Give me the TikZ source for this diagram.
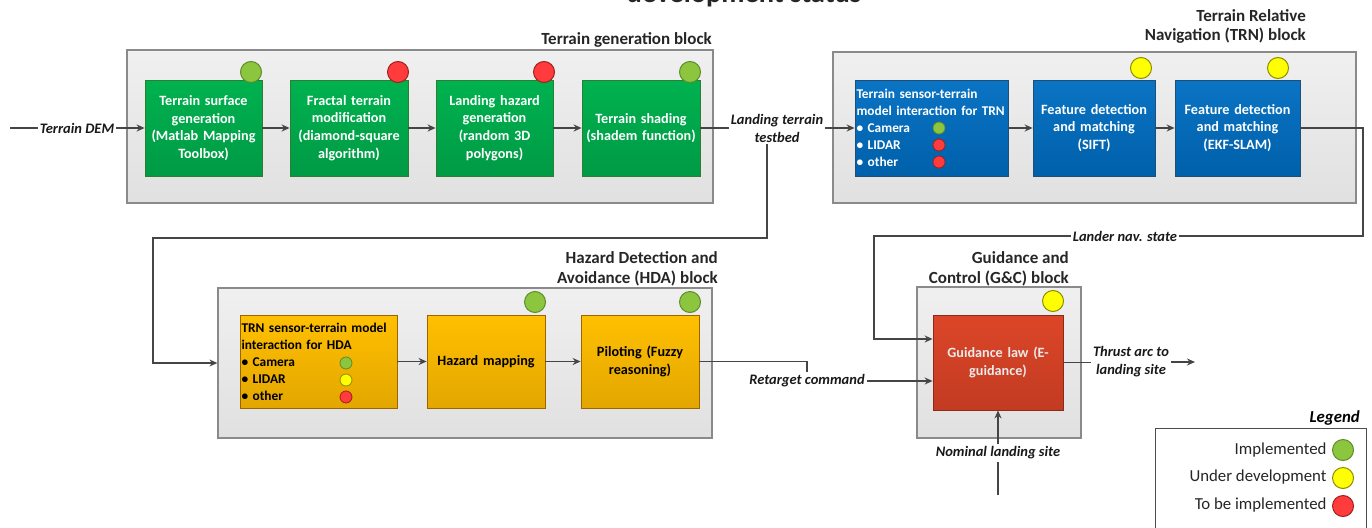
\documentclass[tikz,border=0pt]{standalone}
\usepackage{fontspec}
\setmainfont{Carlito}
\usetikzlibrary{arrows.meta}
\definecolor{lineC}{HTML}{454545}
\definecolor{blkbord}{HTML}{8A8A8A}
\definecolor{gTop}{HTML}{00B24F}
\definecolor{gBot}{HTML}{009A45}
\definecolor{gBord}{HTML}{2E7D32}
\definecolor{bTop}{HTML}{0A74C4}
\definecolor{bBot}{HTML}{0060AA}
\definecolor{bBord}{HTML}{1F4E79}
\definecolor{oTop}{HTML}{FFC000}
\definecolor{oBot}{HTML}{E3A600}
\definecolor{oBord}{HTML}{9C6500}
\definecolor{rTop}{HTML}{DC4628}
\definecolor{rBot}{HTML}{C23B22}
\definecolor{rBord}{HTML}{8B2A18}
\definecolor{stG}{HTML}{8CC63F}
\definecolor{stGd}{HTML}{5E8C2A}
\definecolor{stY}{HTML}{FFFF00}
\definecolor{stYd}{HTML}{8C8C00}
\definecolor{stR}{HTML}{FF3B3B}
\definecolor{stRd}{HTML}{A02020}
\tikzset{
  blk/.style={draw=blkbord, line width=1.2pt, top color=white!94!black, bottom color=white!88!black, rectangle, inner sep=0pt},
  blklbl/.style={font=\fontsize{17}{19.5}\selectfont\bfseries, align=right, inner sep=2pt, text=black!85},
  boxtxt/.style={font=\fontsize{14.2}{17.7}\selectfont\bfseries, text=white, align=center, inner sep=1pt},
  smalltxt/.style={font=\fontsize{13.4}{17}\selectfont\bfseries, align=left},
  gbox/.style={boxtxt, draw=gBord, line width=0.8pt, top color=gTop, bottom color=gBot, minimum height=96pt},
  bbox/.style={boxtxt, draw=bBord, line width=0.8pt, top color=bTop, bottom color=bBot, minimum height=96pt},
  obox/.style={boxtxt, text=black, draw=oBord, line width=0.8pt, top color=oTop, bottom color=oBot, minimum height=93pt},
  rbox/.style={boxtxt, text=white!92!black, draw=rBord, line width=0.8pt, top color=rTop, bottom color=rBot, minimum height=95pt},
  stat/.style={circle, minimum size=21pt, inner sep=0pt, line width=1pt},
  sstat/.style={circle, minimum size=12pt, inner sep=0pt, line width=0.8pt},
  sg/.style={fill=stG, draw=stGd}, sy/.style={fill=stY, draw=stYd}, sr/.style={fill=stR, draw=stRd},
  conn/.style={draw=lineC, line width=1.8pt},
  arr/.style={conn, -{Stealth[length=8pt,width=7pt]}},
  clbl/.style={font=\fontsize{14.5}{18}\selectfont\bfseries\itshape, align=center, inner sep=2pt, text=black!90},
}
\begin{document}
\begin{tikzpicture}[x=1pt,y=-1pt]
\useasboundingbox (0,0) rectangle (1372,527);
% title (cut off at top, as in the reference)
\node[anchor=base, font=\fontsize{28.5}{32}\selectfont\bfseries, text=black!85] (title) at (744,3) {development status};

% blocks
\node[blk, minimum width=586pt, minimum height=153pt] (tgb) at (420,126.5) {};
\node[blklbl, anchor=south east] (tgbl) at (714,50) {Terrain generation block};
\node[blk, minimum width=523pt, minimum height=151pt] (trn) at (1094.5,127.5) {};
\node[blklbl, anchor=south east] (trnl) at (1308,46) {Terrain Relative\\Navigation (TRN) block};
\node[blk, minimum width=494pt, minimum height=150pt] (hda) at (465,363) {};
\node[blklbl, anchor=south east] (hdal) at (720,288) {Hazard Detection and\\Avoidance (HDA) block};
\node[blk, minimum width=164pt, minimum height=151pt] (gc) at (999,362.5) {};
\node[blklbl, anchor=south east] (gcl) at (1071,288) {Guidance and\\Control (G\&C) block};

% terrain generation boxes
\node[gbox, minimum width=117pt, text width=115pt] (g1) at (203.5,128) {Terrain surface\\generation\\(Matlab Mapping\\Toolbox)};
\node[gbox, minimum width=118pt, text width=116pt] (g2) at (349,128) {Fractal terrain\\modification\\(diamond-square\\algorithm)};
\node[gbox, minimum width=117pt, text width=115pt] (g3) at (494.5,128) {Landing hazard\\generation\\(random 3D\\polygons)};
\node[gbox, minimum width=118pt, text width=116pt] (g4) at (641,128) {Terrain shading\\(shadem function)};
\node[stat, sg] (s1) at (251,72) {};
\node[stat, sr] (s2) at (398,72) {};
\node[stat, sr] (s3) at (544,72) {};
\node[stat, sg] (s4) at (690,72) {};

% TRN boxes
\node[bbox, smalltxt, minimum width=153pt, text width=150pt] (b1) at (931.5,128) {Terrain sensor-terrain\\model interaction for TRN\\\textbullet{} Camera\\\textbullet{} LIDAR\\\textbullet{} other};
\node[bbox, minimum width=122pt, text width=120pt] (b2) at (1094,128) {Feature detection\\and matching\\(SIFT)};
\node[bbox, minimum width=125pt, text width=123pt] (b3) at (1237.5,128) {Feature detection\\and matching\\(EKF-SLAM)};
\node[stat, sy] (s5) at (1141,68) {};
\node[stat, sy] (s6) at (1278,68) {};
\node[sstat, sg] (s7) at (939,128) {};
\node[sstat, sr] (s8) at (939,145) {};
\node[sstat, sr] (s9) at (939,162) {};

% HDA boxes
\node[obox, smalltxt, minimum width=157pt, text width=154pt] (o1) at (318.5,361.5) {TRN sensor-terrain model\\interaction for HDA\\\textbullet{} Camera\\\textbullet{} LIDAR\\\textbullet{} other};
\node[obox, minimum width=118pt, text width=116pt] (o2) at (486,361.5) {Hazard mapping};
\node[obox, minimum width=118pt, text width=116pt] (o3) at (640,361.5) {Piloting (Fuzzy\\reasoning)};
\node[stat, sg] (s10) at (535,302) {};
\node[stat, sg] (s11) at (690,302) {};
\node[sstat, sg] (s12) at (346,363) {};
\node[sstat, sy] (s13) at (346,380) {};
\node[sstat, sr] (s14) at (346,397) {};

% G&C box
\node[rbox, minimum width=130pt, text width=120pt] (red) at (998,362.5) {Guidance law (E-\\guidance)};
\node[stat, sy] (s15) at (1053,301) {};

% connector labels
\node[clbl] (dem) at (77,128) {Terrain DEM};
\node[clbl] (lt) at (777,128) {Landing terrain\\testbed};
\node[clbl] (rc) at (807,381) {Retarget command};
\node[clbl] (lns) at (1125,236) {Lander nav. state};
\node[clbl] (ta) at (1131,362) {Thrust arc to\\landing site};
\node[clbl] (nls) at (998,453) {Nominal landing site};

% coordinates
\coordinate (demstart) at (10,128);
\coordinate (c1) at (153,238);
\coordinate (c2) at (1363,128);
\coordinate (c3) at (874,236);
\coordinate (ry) at (0,339);
\coordinate (tend) at (1195,362);
\coordinate (nstart) at (998,495);

% connectors
\draw[conn] (demstart) -- (dem.west);
\draw[arr] (dem.east) -- (g1.west);
\draw[arr] (g1.east) -- (g2.west);
\draw[arr] (g2.east) -- (g3.west);
\draw[arr] (g3.east) -- (g4.west);
\draw[conn] (g4.east) -- (g4.east -| lt.west);
\draw[arr] (lt.east |- b1.west) -- (b1.west);
\draw[arr] (b1.east) -- (b2.west);
\draw[arr] (b2.east) -- (b3.west);
\draw[arr] ([xshift=-10pt]lt.south) |- (c1) |- (hda.west);
\draw[arr] (o1.east) -- (o2.west);
\draw[arr] (o2.east) -- (o3.west);
\draw[conn] (o3.east) -| (rc.north);
\draw[arr] (rc.east) -- (rc.east -| red.west);
\draw[conn] (b3.east) -- (c2) |- (lns.east);
\draw[arr] (lns.west) -- (c3) |- (red.west |- ry);
\draw[conn] (red.east) -- (ta.west |- red.east);
\draw[arr] (ta.east |- tend) -- (tend);
\draw[conn] (nstart) -- (nls.south);
\draw[arr] (nls.north) -- (red.south);

% legend
\node[font=\fontsize{16.8}{20}\selectfont\bfseries\itshape, anchor=south east, inner sep=2pt] (legl) at (1362,428) {Legend};
\node[draw=black!70, line width=1pt, fill=white, minimum width=211pt, minimum height=108pt, inner sep=0pt] (leg) at (1260.5,482) {};
\node[anchor=east, font=\fontsize{16.8}{20}\selectfont, text=black!85] (l1) at (1330,450) {Implemented};
\node[anchor=east, font=\fontsize{16.8}{20}\selectfont, text=black!85] (l2) at (1330,477) {Under development};
\node[anchor=east, font=\fontsize{16.8}{20}\selectfont, text=black!85] (l3) at (1330,505) {To be implemented};
\node[stat, sg] (ls1) at (1343,450) {};
\node[stat, sy] (ls2) at (1343,478) {};
\node[stat, sr] (ls3) at (1343,506) {};
\end{tikzpicture}
\end{document}
